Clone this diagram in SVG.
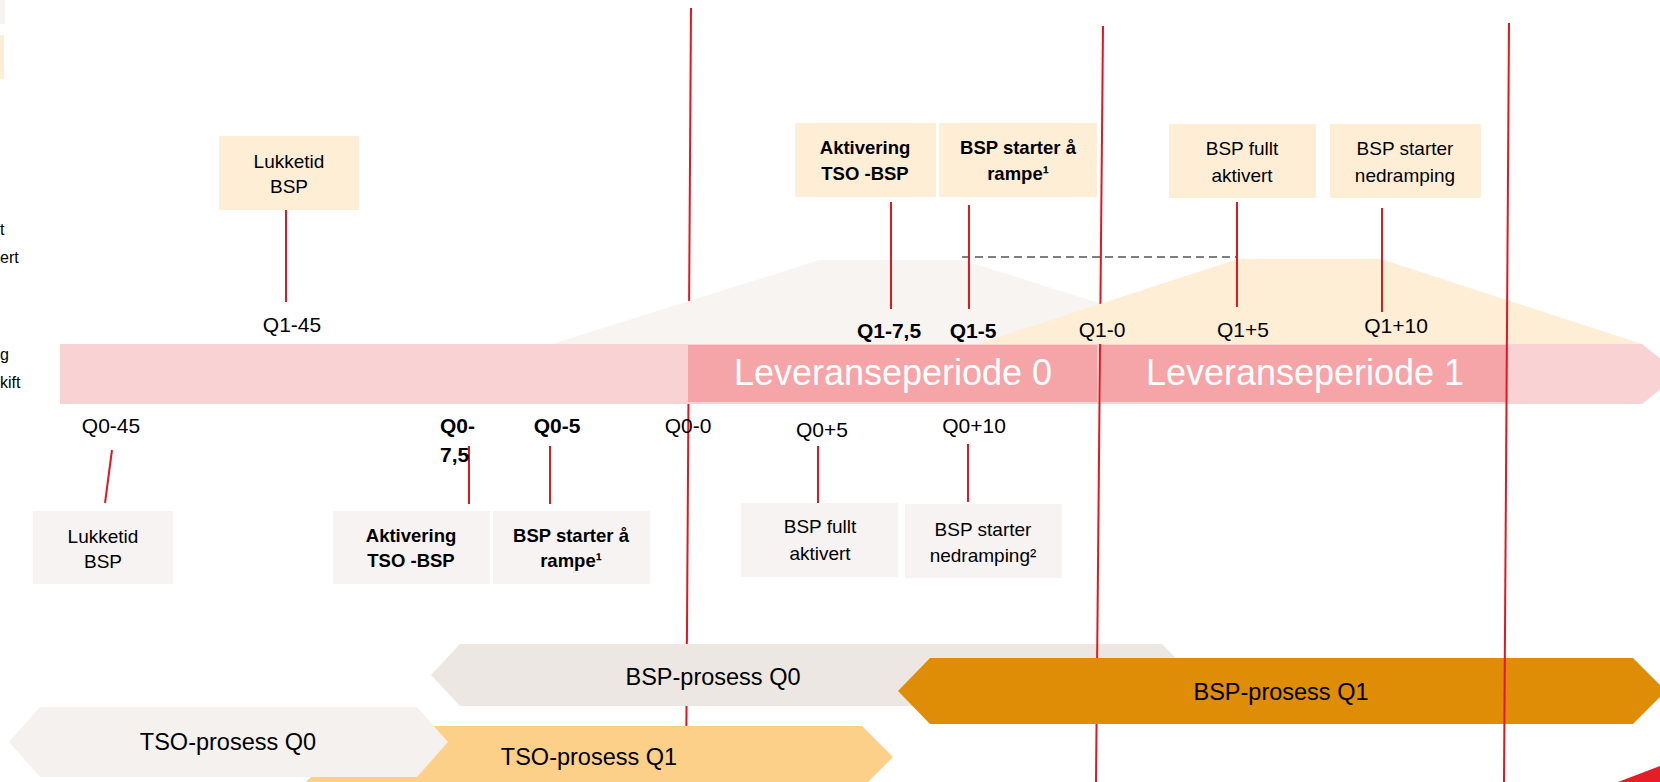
<svg xmlns="http://www.w3.org/2000/svg" width="1660" height="782" viewBox="0 0 1660 782">
<style>
.t{font-family:"Liberation Sans",Arial,sans-serif;fill:#000}
.lbl{font-size:21px;text-anchor:middle}
.b{font-weight:bold}
.box{font-size:19px;text-anchor:middle}
.bb{font-size:18.5px;font-weight:bold;text-anchor:middle}
.frag{font-size:16px;text-anchor:start}
.proc{font-size:23.5px;text-anchor:middle}
.lev{font-size:36px;fill:#fff;text-anchor:middle}
.rl{stroke:#E4161E;stroke-width:2;fill:none}
.pk{fill:#FFEED6}
.gy{fill:#F7F3F2}
</style>
<rect x="0" y="0" width="1660" height="782" fill="#fff"/>
<g id="fragments">
<rect x="0" y="0" width="5" height="24" fill="#F7F3F2"/>
<rect x="0" y="35" width="4" height="44" fill="#FFEED6"/>
<text class="t frag" x="0" y="235">t</text>
<text class="t frag" x="0" y="263">ert</text>
<text class="t frag" x="0" y="360">g</text>
<text class="t frag" x="0" y="388">kift</text>
</g>
<line id="period-line-0" class="rl" x1="691" y1="8" x2="686" y2="782"/>
<g id="ramp-q0"><polygon points="552,344 820,260 962,260 1230,344" fill="#F8F4F2"/></g>
<g id="timeline">
<path d="M60,344 H1642 L1680,374 L1642,404 H60 Z" fill="#F9D2D4"/>
<rect x="688" y="345" width="409" height="57" fill="#F5A4A8"/>
<rect x="1101" y="345" width="405" height="57" fill="#F5A4A8"/>
<text class="t lev" x="893" y="385">Leveranseperiode 0</text>
<text class="t lev" x="1305" y="385">Leveranseperiode 1</text>
</g>
<g id="bsp-q0"><polygon points="431,675 460,644 1162,644 1193,675 1162,706 460,706" fill="#ECE7E3"/>
<text class="t proc" x="713" y="685">BSP-prosess Q0</text></g>
<g id="tso-q1"><polygon points="300,726 862,726 893,757 862,788 300,788 331,757" fill="#FDD089"/>
<text class="t proc" x="589" y="765">TSO-prosess Q1</text></g>
<g id="tso-q0"><polygon points="9,742 40,707 417,707 448,742 417,777 40,777" fill="#F4F1EF"/>
<text class="t proc" x="228" y="750">TSO-prosess Q0</text></g>
<line id="period-line-1" class="rl" x1="1103" y1="26" x2="1096" y2="782"/>
<g id="ramp-q1"><polygon points="977,344 1238,259 1381,259 1642,344" fill="#FFEED6"/></g>
<g id="bsp-q1"><polygon points="898,691 930,658 1633,658 1666,691 1633,724 930,724" fill="#DF8C06"/>
<text class="t proc" x="1281" y="700">BSP-prosess Q1</text></g>
<line id="level" x1="962" y1="257" x2="1238" y2="257" stroke="#7F7F7F" stroke-width="2" stroke-dasharray="8 5"/>

<g id="connectors" class="rl">
<line x1="286" y1="210" x2="286" y2="302"/>
<line x1="891" y1="202" x2="891" y2="309"/>
<line x1="969" y1="205" x2="969" y2="309"/>
<line x1="1237" y1="202" x2="1237" y2="307"/>
<line x1="1382" y1="208" x2="1382" y2="312"/>
<line x1="112" y1="450" x2="105" y2="503"/>
<line x1="469" y1="446" x2="469" y2="504"/>
<line x1="550" y1="446" x2="550" y2="504"/>
<line x1="818" y1="446" x2="818" y2="504"/>
<line x1="968" y1="444" x2="968" y2="502"/>
</g>

<g id="box-lukketid-q1"><rect class="pk" x="219" y="136" width="140" height="74"/>
<text class="t box" x="289" y="168">Lukketid</text><text class="t box" x="289" y="193">BSP</text></g>
<g id="box-aktivering-q1"><rect class="pk" x="795" y="123" width="141" height="74"/>
<text class="t bb" x="865" y="154">Aktivering</text><text class="t bb" x="865" y="180">TSO -BSP</text></g>
<g id="box-rampe-q1"><rect class="pk" x="939" y="123" width="158" height="74"/>
<text class="t bb" x="1018" y="154">BSP starter å</text><text class="t bb" x="1018" y="180">rampe¹</text></g>
<g id="box-fullt-q1"><rect class="pk" x="1169" y="124" width="147" height="74"/>
<text class="t box" x="1242" y="155">BSP fullt</text><text class="t box" x="1242" y="182">aktivert</text></g>
<g id="box-ned-q1"><rect class="pk" x="1330" y="124" width="151" height="74"/>
<text class="t box" x="1405" y="155">BSP starter</text><text class="t box" x="1405" y="182">nedramping</text></g>

<g id="box-lukketid-q0"><rect class="gy" x="33" y="511" width="140" height="73"/>
<text class="t box" x="103" y="543">Lukketid</text><text class="t box" x="103" y="568">BSP</text></g>
<g id="box-aktivering-q0"><rect class="gy" x="333" y="511" width="157" height="73"/>
<text class="t bb" x="411" y="542">Aktivering</text><text class="t bb" x="411" y="567">TSO -BSP</text></g>
<g id="box-rampe-q0"><rect class="gy" x="493" y="511" width="157" height="73"/>
<text class="t bb" x="571" y="542">BSP starter å</text><text class="t bb" x="571" y="567">rampe¹</text></g>
<g id="box-fullt-q0"><rect class="gy" x="741" y="503" width="157" height="74"/>
<text class="t box" x="820" y="533">BSP fullt</text><text class="t box" x="820" y="560">aktivert</text></g>
<g id="box-ned-q0"><rect class="gy" x="905" y="504" width="157" height="74"/>
<text class="t box" x="983" y="536">BSP starter</text><text class="t box" x="983" y="562">nedramping²</text></g>

<g id="labels-q1">
<text class="t lbl" x="292" y="332">Q1-45</text>
<text class="t lbl b" x="889" y="338">Q1-7,5</text>
<text class="t lbl b" x="973" y="338">Q1-5</text>
<text class="t lbl" x="1102" y="337">Q1-0</text>
<text class="t lbl" x="1243" y="337">Q1+5</text>
<text class="t lbl" x="1396" y="333">Q1+10</text>
</g>
<g id="labels-q0">
<text class="t lbl" x="111" y="433">Q0-45</text>
<text class="t b" style="font-size:21px" x="440" y="433">Q0-</text>
<text class="t b" style="font-size:21px" x="440" y="462">7,5</text>
<text class="t lbl b" x="557" y="433">Q0-5</text>
<text class="t lbl" x="688" y="433">Q0-0</text>
<text class="t lbl" x="822" y="437">Q0+5</text>
<text class="t lbl" x="974" y="433">Q0+10</text>
</g>
<line id="period-line-2" class="rl" x1="1509" y1="23" x2="1504" y2="782"/>
<polygon id="corner" points="1618,782 1660,766 1660,782" fill="#E41E26"/>
</svg>
